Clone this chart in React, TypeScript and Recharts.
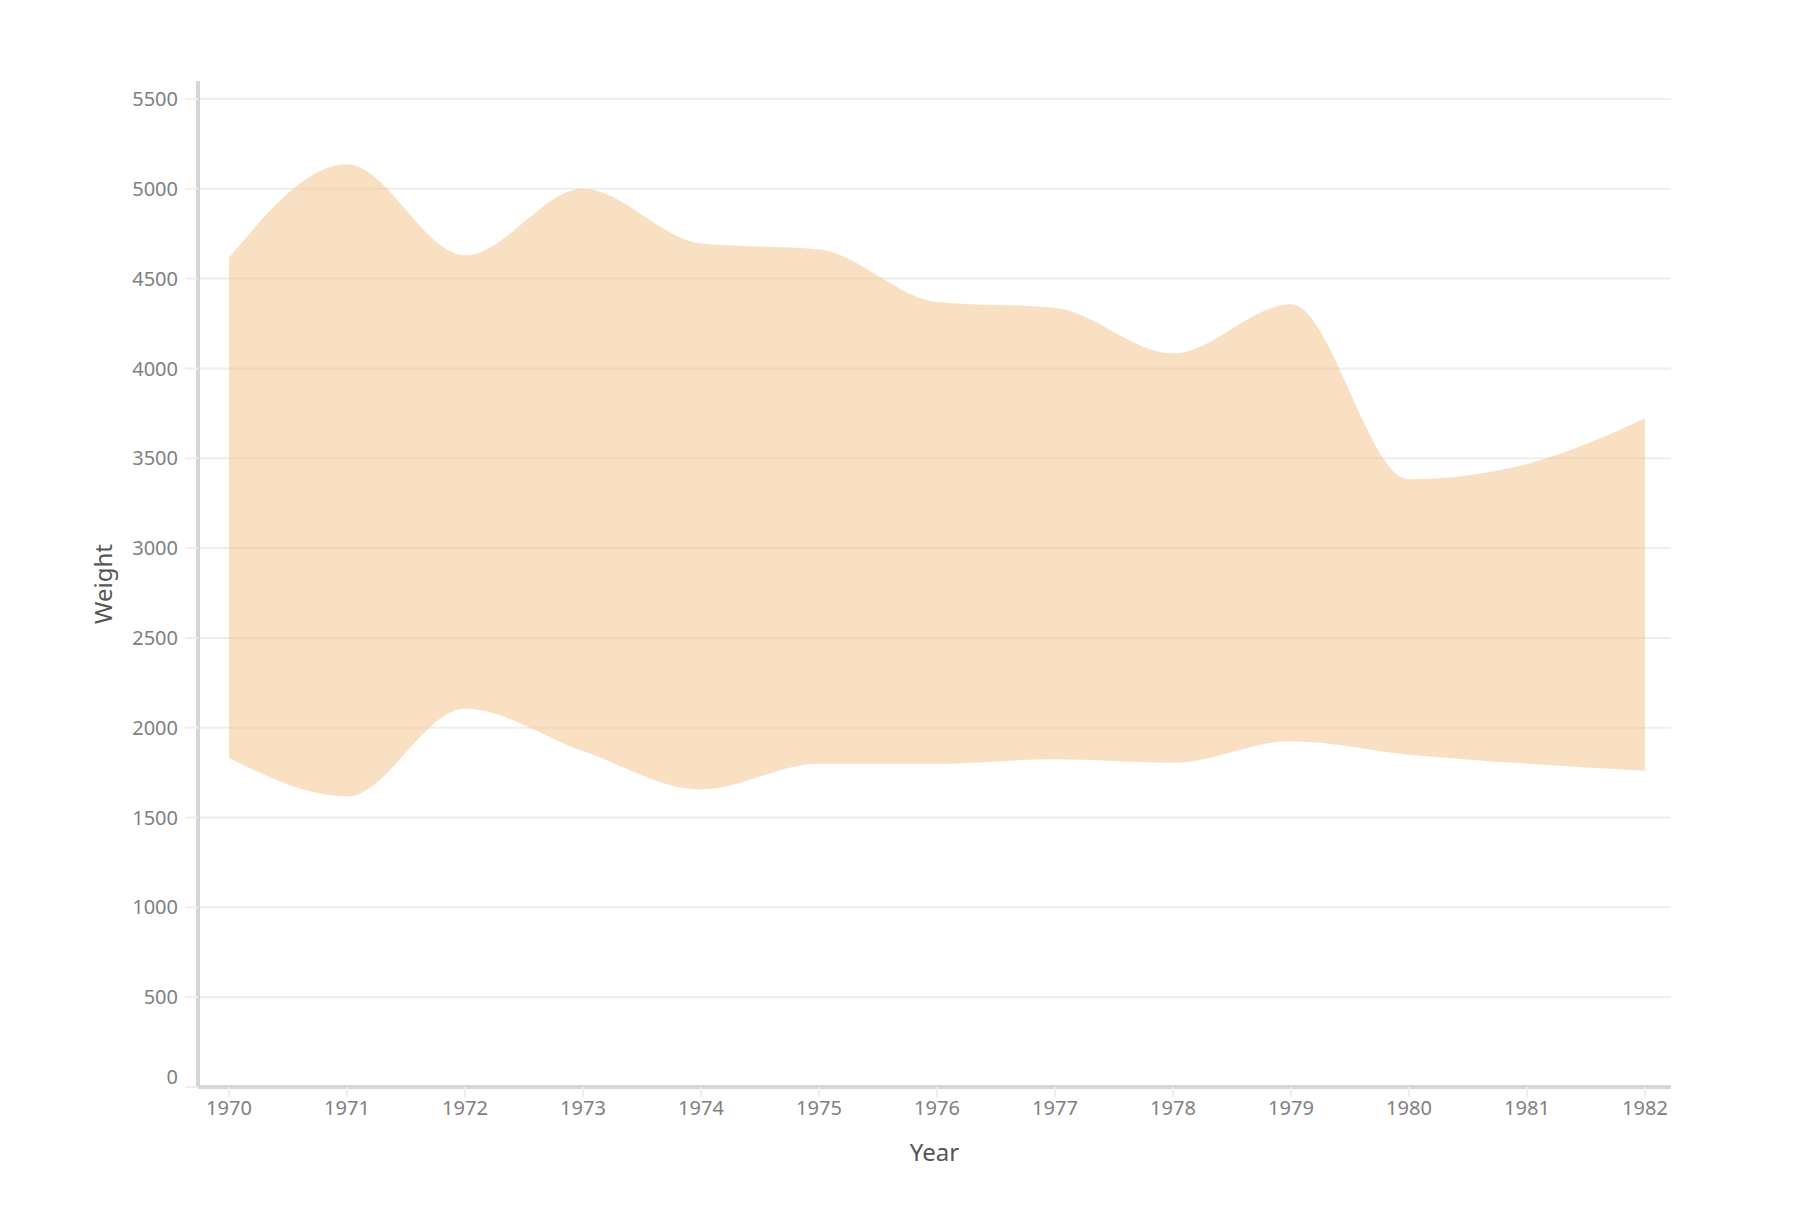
import { Area, AreaChart, CartesianGrid, Label, Text, XAxis, YAxis } from 'recharts'

const years = ['1970', '1971', '1972', '1973', '1974', '1975', '1976', '1977', '1978', '1979', '1980', '1981', '1982']
const lowWeight = [1831, 1617, 2105, 1870, 1656, 1799, 1799, 1825, 1805, 1925, 1850, 1800, 1760]
const highWeight = [4617, 5136, 4630, 5000, 4695, 4662, 4370, 4338, 4084, 4357, 3383, 3468, 3721]
const weightTicks = [0, 500, 1000, 1500, 2000, 2500, 3000, 3500, 4000, 4500, 5000, 5500]
const weightMax = 5600

const data = years.map((year, i) => ({
  year,
  range: [lowWeight[i], highWeight[i]],
}))

const font = '"Noto Sans", sans-serif'
const tickStyle = { fill: '#808080', fontSize: 20, fontFamily: font }

// zero label sits a bit above its line, like the original
const WeightTick = (props: any) => {
  const { x, y, payload, textAnchor } = props
  return (
    <Text
      x={x}
      y={payload.value === 0 ? y - 10 : y}
      textAnchor={textAnchor}
      verticalAnchor="middle"
      {...tickStyle}
    >
      {payload.value}
    </Text>
  )
}

// only draw grid lines at the labelled ticks (no line at the domain top)
const gridRows = ({ yAxis, offset }: any) =>
  weightTicks.map((t) => {
    const s = yAxis && yAxis.scale
    if (typeof s === 'function') return s(t)
    if (s && typeof s.map === 'function') return s.map(t)
    return offset.top + offset.height * (1 - t / weightMax)
  })

export default function App() {
  return (
    <AreaChart
      width={1800}
      height={1210}
      data={data}
      margin={{ top: 73, right: 137, left: 0, bottom: 0 }}
    >
      <CartesianGrid
        vertical={false}
        stroke="#eeeeee"
        strokeWidth={2}
        horizontalCoordinatesGenerator={gridRows}
      />
      <XAxis
        dataKey="year"
        height={131}
        padding={{ left: 31, right: 26 }}
        axisLine={{ stroke: '#d6d6d6', strokeWidth: 4 }}
        tickLine={{ stroke: '#eeeeee', strokeWidth: 2 }}
        tickSize={10}
        tickMargin={4}
        tick={tickStyle}
      >
        <Label
          value="Year"
          position="center"
          style={{ fill: '#555555', fontSize: 24, fontFamily: font }}
        />
      </XAxis>
      <YAxis
        width={190}
        domain={[0, weightMax]}
        ticks={weightTicks}
        axisLine={{ stroke: '#d6d6d6', strokeWidth: 4 }}
        tickLine={{ stroke: '#eeeeee', strokeWidth: 2 }}
        tickSize={13}
        tickMargin={7}
        tick={<WeightTick />}
      >
        <Label
          value="Weight"
          angle={-90}
          position="center"
          style={{ fill: '#555555', fontSize: 24, fontFamily: font }}
        />
      </YAxis>
      <Area
        type="monotone"
        dataKey="range"
        stroke="none"
        fill="#f4ba77"
        fillOpacity={0.45}
        isAnimationActive={false}
      />
    </AreaChart>
  )
}
